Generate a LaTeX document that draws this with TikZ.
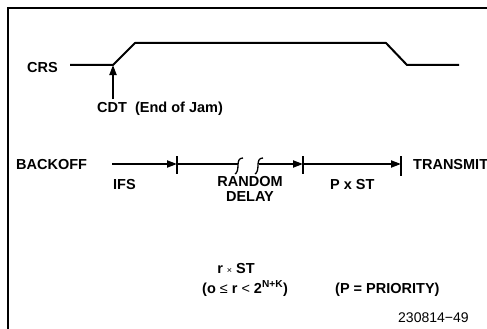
\documentclass[tikz,border=0pt]{standalone}
\usepackage{fontspec}
\setmainfont{Liberation Sans}
\usetikzlibrary{arrows.meta}
\begin{document}
\begin{tikzpicture}[x=1pt,y=-1pt,
  lbl/.style={font=\bfseries\fontsize{14.5}{16}\selectfont, inner sep=0pt, anchor=base west},
  lblc/.style={font=\bfseries\fontsize{14.5}{16}\selectfont, inner sep=0pt, anchor=base, align=center},
  numlbl/.style={font=\fontsize{14}{16}\selectfont, inner sep=0pt, anchor=base west},
  sig/.style={line width=2pt, line join=round},
  tip/.style={-{Triangle[length=10pt,width=7pt]}},
  tickmark/.style={line width=1.8pt},
  curl/.style={line width=1.3pt},
  frame/.style={line width=1.1pt},
]
\useasboundingbox (0,0) rectangle (487,329);
% frame
\draw[frame] (8,329) -- (8,8) -- (487,8);

% CRS waveform
\coordinate (c0) at (70,65);
\coordinate (c1) at (113,65);
\coordinate (c2) at (135,43);
\coordinate (c3) at (386,43);
\coordinate (c4) at (407,65);
\coordinate (c5) at (459,65);
\draw[sig] (c0) -- (c1) -- (c2) -- (c3) -- (c4) -- (c5);
\node[lbl] (crs) at (27,72) {CRS};

% CDT arrow
\coordinate (cdtb) at (113,99);
\draw[sig, tip] (cdtb) -- (c1);
\node[lbl] (cdt) at (97,112) {CDT\ \ (End of Jam)};

% Backoff row
\node[lbl] (backoff) at (16,169) {BACKOFF};
\node[lbl] (transmit) at (413,169) {TRANSMIT};
\coordinate (b0) at (112,164);
\coordinate (t1) at (177,164);
\coordinate (br1) at (238,164);
\coordinate (br2) at (259,164);
\coordinate (t2) at (303,164);
\coordinate (t3) at (401,164);
\draw[sig, tip] (b0) -- (t1);
\draw[sig] (t1) -- (br1);
\draw[sig, tip] (br2) -- (t2);
\draw[sig, tip] (t2) -- (t3);
% ticks
\draw[tickmark] ([yshift=8pt]t1) -- ([yshift=-10pt]t1);
\draw[tickmark] ([yshift=8pt]t2) -- ([yshift=-10pt]t2);
\draw[tickmark] ([yshift=8pt]t3) -- ([yshift=-12pt]t3);
% break marks
\draw[curl] (243,158) .. controls (239,158) and (238,161) .. (238,165) .. controls (238,170) and (237,173) .. (235,174);
\draw[curl] (263,158) .. controls (259,158) and (258,161) .. (258,165) .. controls (258,170) and (257,173) .. (255,174);

% labels
\node[lbl] (ifs) at (113,189) {IFS};
\node[lblc] (rd) at (250,201) {RANDOM\\[-1pt]DELAY};
\node[lbl] (pxst) at (330,189) {P x ST};
\node[lblc] (rst) at (236,273) {r {\mdseries\small ×} ST};
\node[lbl] (range) at (202,293) {(o {\Large\mdseries ≤} r {\Large\mdseries <} 2\textsuperscript{N+K})};
\node[lbl] (prio) at (335,293) {(P = PRIORITY)};
\node[numlbl] (fig) at (398,322) {230814−49};
\end{tikzpicture}
\end{document}
